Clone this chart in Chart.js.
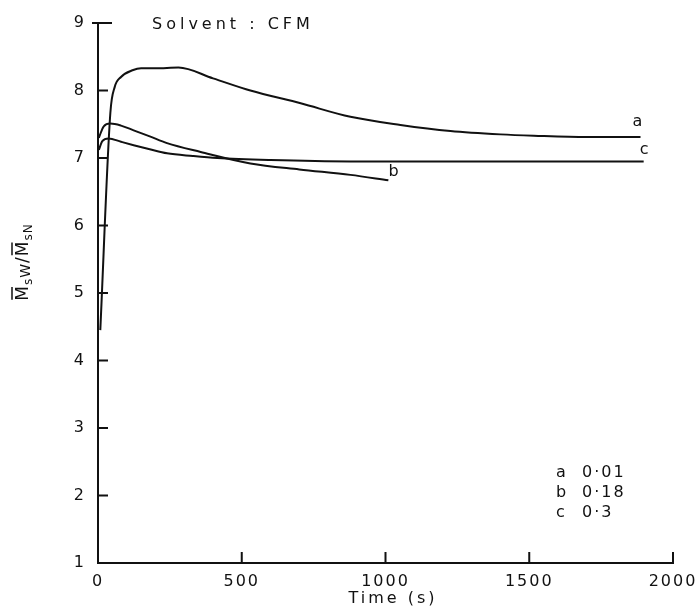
<!DOCTYPE html>
<html>
<head>
<meta charset="utf-8">
<script src="https://cdn.jsdelivr.net/npm/chart.js@4.4.1/dist/chart.umd.min.js"></script>
<style>
  html, body { margin: 0; padding: 0; background: #fff; }
  #wrap { width: 698px; height: 614px; }
</style>
</head>
<body>
<div id="wrap"><canvas id="chart" width="698" height="614"></canvas></div>
<script>
// values
const timeA = [8, 43, 58, 80, 120, 150, 200, 280, 400, 530, 705, 878, 1052, 1226, 1400, 1516, 1700, 1887];
const ratioA = [4.45, 7.67, 8.05, 8.2, 8.3, 8.33, 8.33, 8.34, 8.18, 8.0, 7.81, 7.61, 7.49, 7.4, 7.35, 7.33, 7.31, 7.31];
const timeB = [3, 20, 43, 80, 124, 180, 240, 357, 530, 700, 878, 1010];
const ratioB = [7.3, 7.47, 7.51, 7.48, 7.41, 7.32, 7.22, 7.09, 6.92, 6.83, 6.75, 6.67];
const timeC = [3, 15, 37, 80, 124, 180, 240, 330, 415, 600, 878, 1200, 1500, 1898];
const ratioC = [7.12, 7.25, 7.29, 7.24, 7.19, 7.13, 7.07, 7.03, 7.0, 6.97, 6.95, 6.95, 6.95, 6.95];
const seriesNames = ['a', 'b', 'c'];
const seriesValues = ['0·01', '0·18', '0·3'];
const xTicks = [0, 500, 1000, 1500, 2000];
const yTicks = [1, 2, 3, 4, 5, 6, 7, 8, 9];

const FONT = '"DejaVu Sans", sans-serif';

function pts(xs, ys) {
    return xs.map((x, i) => ({ x: x, y: ys[i] }));
}

function lineSet(label, xs, ys) {
    return {
        label: label, data: pts(xs, ys), showLine: true, borderColor: '#111', borderWidth: 2,
        pointRadius: 0, tension: 0.4, cubicInterpolationMode: 'monotone', fill: false
    };
}

// axes ticks (inward), curve labels, legend text, titles
const decorPlugin = {
    id: 'decor',
    beforeDraw(chart) {
        chart.ctx.letterSpacing = '2px';
    },
    afterDraw(chart) {
        const ctx = chart.ctx;
        const xs = chart.scales.x, ys = chart.scales.y;
        const x0 = xs.getPixelForValue(0), y0 = ys.getPixelForValue(1);
        ctx.save();
        ctx.strokeStyle = '#111';
        ctx.lineWidth = 2;
        ctx.beginPath();
        xTicks.slice(1).forEach(v => {
            const px = xs.getPixelForValue(v);
            ctx.moveTo(px, y0); ctx.lineTo(px, y0 - 11);
        });
        yTicks.slice(1).forEach(v => {
            const py = ys.getPixelForValue(v);
            const left = v === 9 ? x0 - 6 : x0;
            const right = v === 9 ? x0 + 14 : x0 + 10;
            ctx.moveTo(left, py); ctx.lineTo(right, py);
        });
        ctx.stroke();

        ctx.fillStyle = '#111';
        ctx.textBaseline = 'middle';
        ctx.textAlign = 'left';

        // curve end labels
        ctx.font = '16px ' + FONT;
        ctx.letterSpacing = '0px';
        const ends = [
            [timeA[timeA.length - 1], ratioA[ratioA.length - 1], -8, -15],
            [timeB[timeB.length - 1], ratioB[ratioB.length - 1], 0, -8],
            [timeC[timeC.length - 1], ratioC[ratioC.length - 1], -4, -12]
        ];
        ends.forEach((e, i) => {
            ctx.fillText(seriesNames[i], xs.getPixelForValue(e[0]) + e[2], ys.getPixelForValue(e[1]) + e[3]);
        });

        // legend block, lower right
        ctx.letterSpacing = '2px';
        seriesNames.forEach((n, i) => {
            const py = 473 + i * 20;
            ctx.fillText(n, 556, py);
            ctx.fillText(seriesValues[i], 582, py);
        });

        // solvent note
        ctx.letterSpacing = '4px';
        ctx.font = '16px ' + FONT;
        ctx.fillText('Solvent : CFM', 152, 25);

        // x title
        ctx.letterSpacing = '3px';
        ctx.font = '16px ' + FONT;
        ctx.textAlign = 'center';
        ctx.fillText('Time (s)', 393, 599);

        // y title: M̄sW / M̄sN, rotated
        ctx.letterSpacing = '1px';
        ctx.translate(22, 262);
        ctx.rotate(-Math.PI / 2);
        ctx.textAlign = 'left';
        ctx.textBaseline = 'alphabetic';
        const parts = [
            ['M', 17, 0, true], ['s', 12, 4, false], ['W', 14, 2, false], ['/', 17, 0, false],
            ['M', 17, 0, true], ['s', 12, 4, false], ['N', 12, 4, false]
        ];
        let w = 0;
        parts.forEach(p => { ctx.font = p[1] + 'px ' + FONT; w += ctx.measureText(p[0]).width; });
        let cx = -w / 2;
        parts.forEach(p => {
            ctx.font = p[1] + 'px ' + FONT;
            const tw = ctx.measureText(p[0]).width;
            ctx.fillText(p[0], cx, 6 + p[2]);
            if (p[3]) {
                ctx.lineWidth = 1.5;
                ctx.beginPath();
                ctx.moveTo(cx + 1, -10); ctx.lineTo(cx + tw - 2, -10);
                ctx.stroke();
            }
            cx += tw;
        });
        ctx.restore();
    }
};

new Chart(document.getElementById('chart'), {
    type: 'scatter',
    data: {
        datasets: [
            lineSet('a', timeA, ratioA),
            lineSet('b', timeB, ratioB),
            lineSet('c', timeC, ratioC)
        ]
    },
    options: {
        responsive: false,
        animation: false,
        devicePixelRatio: 1,
        layout: { padding: { left: 0, right: 25, top: 23, bottom: 0 } },
        plugins: { legend: { display: false }, tooltip: { enabled: false } },
        scales: {
            x: {
                type: 'linear', min: 0, max: 2000,
                afterFit: s => { s.height = 51; s.paddingLeft = 0; s.paddingRight = 0; },
                afterBuildTicks: s => { s.ticks = xTicks.map(v => ({ value: v })); },
                ticks: { color: '#111', padding: 9, maxRotation: 0, callback: v => String(v),
                    font: { family: FONT, size: 16 } },
                grid: { display: false, drawTicks: false },
                border: { display: true, color: '#111', width: 2 }
            },
            y: {
                type: 'linear', min: 1, max: 9,
                afterFit: s => { s.width = 98; s.paddingTop = 0; s.paddingBottom = 0; },
                afterBuildTicks: s => { s.ticks = yTicks.map(v => ({ value: v })); },
                ticks: { color: '#111', padding: 12, callback: v => String(v),
                    font: { family: FONT, size: 16 } },
                grid: { display: false, drawTicks: false },
                border: { display: true, color: '#111', width: 2 }
            }
        }
    },
    plugins: [decorPlugin]
});
</script>
</body>
</html>
